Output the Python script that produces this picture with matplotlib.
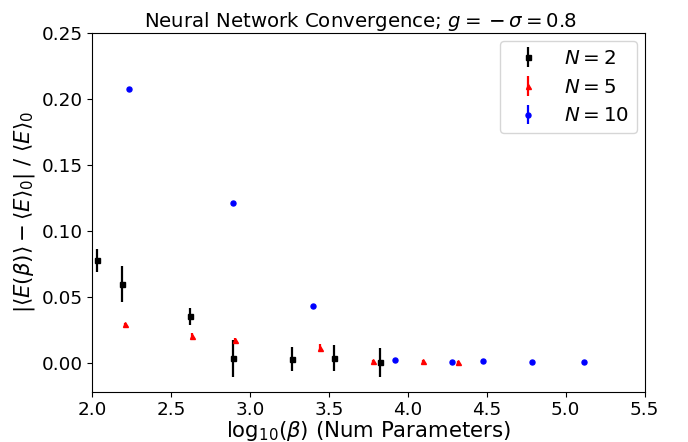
import matplotlib

matplotlib.use("Agg")
import matplotlib.pyplot as plt

# log10 of parameter count and relative energy error for each network width
x_n2 = [2.03, 2.19, 2.62, 2.895, 3.265, 3.529, 3.824]
y_n2 = [0.0776, 0.0594, 0.0351, 0.0033, 0.0026, 0.0033, 0.0003]
e_n2 = [0.0088, 0.0136, 0.0066, 0.0139, 0.0092, 0.0097, 0.0111]

x_n5 = [2.209, 2.633, 2.902, 3.446, 3.780, 4.094, 4.318]
y_n5 = [0.0291, 0.0205, 0.0170, 0.0114, 0.0010, 0.0013, 0.0003]
e_n5 = [0.0008, 0.0020, 0.0020, 0.0029, 0.0008, 0.0008, 0.0008]

x_n10 = [2.234, 2.893, 3.400, 3.917, 4.278, 4.479, 4.787, 5.116]
y_n10 = [0.2076, 0.1208, 0.0427, 0.0023, 0.0003, 0.0013, 0.0003, 0.0003]
e_n10 = [0.0015, 0.0006, 0.0006, 0.0006, 0.0005, 0.0005, 0.0005, 0.0005]

fig = plt.figure(figsize=(6.88, 4.42), dpi=100)
ax = fig.add_axes([0.134, 0.114, 0.803, 0.812])

ax.errorbar(x_n2, y_n2, yerr=e_n2, fmt="s", color="black", ms=3.6, elinewidth=1.6,
            label=r"$N = 2$")
ax.errorbar(x_n5, y_n5, yerr=e_n5, fmt="^", color="red", ms=3.6, elinewidth=1.6,
            label=r"$N = 5$")
ax.errorbar(x_n10, y_n10, yerr=e_n10, fmt="o", color="blue", ms=3.6, elinewidth=1.6,
            label=r"$N = 10$")

ax.set_xlim(2.0, 5.5)
ax.set_ylim(-0.022, 0.25)
ax.set_xticks([2.0, 2.5, 3.0, 3.5, 4.0, 4.5, 5.0, 5.5])
ax.set_yticks([0.0, 0.05, 0.10, 0.15, 0.20, 0.25])
ax.tick_params(labelsize=13.2)

ax.set_xlabel(r"$\mathrm{log}_{10}(\beta)$ (Num Parameters)", fontsize=15.3, labelpad=0)
ax.set_ylabel(r"$|\langle E(\beta)\rangle - \langle E\rangle_0|$ / $\langle E\rangle_0$",
              fontsize=15.3, labelpad=3)
ax.set_title(r"Neural Network Convergence; $g = {}-\sigma = 0.8$", fontsize=14.2,
             pad=4, x=0.485)
ax.legend(loc="upper right", fontsize=14.3, borderaxespad=0.4)

fig.savefig("out.png", dpi=100)
